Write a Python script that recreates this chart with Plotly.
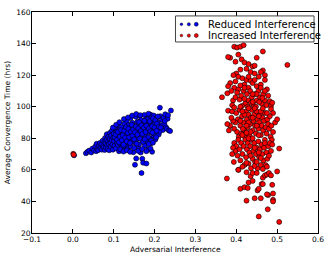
import plotly.graph_objects as go

# Reduced Interference (blue)
blue_x = [0.003,
    0.032,0.036,0.040,0.045,0.048,0.052,0.055,0.057,0.058,0.060,0.062,0.064,
    0.066,0.068,0.070,0.071,0.073,0.074,0.076,0.077,0.078,0.079,0.080,0.081,0.082,0.083,0.084,0.085,0.086,0.087,0.088,0.089,0.090,
    0.091,0.092,0.093,0.094,0.095,0.096,0.097,0.098,0.099,0.100,0.101,0.102,0.103,0.104,0.105,0.106,0.107,0.108,0.109,0.110,0.111,0.112,0.113,0.114,0.115,0.116,0.117,0.118,0.119,0.120,
    0.121,0.122,0.123,0.124,0.125,0.126,0.127,0.128,0.129,0.130,0.131,0.132,0.133,0.134,0.135,0.136,0.137,0.138,0.139,0.140,0.141,0.142,0.143,0.144,0.145,0.146,0.147,0.148,0.149,0.150,
    0.151,0.152,0.153,0.154,0.155,0.156,0.157,0.158,0.159,0.160,0.161,0.162,0.163,0.164,0.165,0.166,0.167,0.168,0.169,0.170,0.171,0.172,0.173,0.174,0.175,0.176,0.177,0.178,0.179,0.180,
    0.181,0.182,0.183,0.184,0.185,0.186,0.187,0.188,0.189,0.190,0.191,0.192,0.193,0.194,0.195,0.196,0.197,0.198,0.199,0.200,0.202,0.204,0.206,0.208,0.210,
    0.213,0.214,0.216,0.218,0.220,0.222,0.224,0.226,0.228,0.230,0.232,0.235,0.238,0.240,0.233,
    0.102,0.105,0.108,0.110,0.113,0.115,0.118,0.120,0.122,0.124,0.126,0.128,0.130,0.132,0.134,0.136,0.138,0.140,0.142,0.144,0.146,0.148,0.150,0.152,0.154,0.156,0.158,0.160,0.162,0.164,
    0.166,0.168,0.170,0.172,0.174,0.176,0.178,0.180,0.182,0.184,0.186,0.188,0.190,0.192,0.194,0.196,0.198,0.200,0.202,0.204,0.206,0.208,0.210,0.212,
    0.116,0.124,0.132,0.140,0.150,0.160,0.170,0.180,0.190,0.186,0.176,0.196,0.098,0.106,0.114,0.125,0.135,0.145,0.155,0.165,0.175,0.185,0.195,0.205,0.215,0.225]
blue_y = [69.2,
    70.5,71.5,72.2,71.0,73.5,72.4,74.8,71.8,76.5,73.2,72.5,75.5,
    77.0,73.8,76.2,72.8,78.5,75.0,74.2,77.6,72.6,80.2,76.8,74.0,79.0,82.5,75.6,73.2,78.0,81.0,76.4,72.4,79.6,
    83.5,77.2,74.6,81.8,79.0,85.0,76.0,72.8,80.4,83.0,78.2,75.2,86.2,81.0,73.6,79.8,84.2,77.0,82.2,75.8,88.0,80.6,71.8,85.4,78.6,83.6,76.4,81.4,87.0,74.2,
    79.4,84.6,72.2,82.8,77.8,89.2,80.0,75.0,86.4,83.2,78.4,91.0,81.6,73.4,85.8,79.2,88.4,76.6,83.8,80.8,92.8,74.8,86.8,82.0,78.0,89.8,84.4,71.2,80.2,87.6,
    83.0,63.2,77.2,93.6,67.2,85.2,79.6,90.4,74.0,82.6,88.0,76.2,94.2,84.8,80.4,71.0,91.6,58.0,86.0,67.0,78.8,64.5,89.0,83.4,94.8,75.4,87.2,81.2,92.2,64.0,
    85.6,78.2,90.8,73.0,88.6,83.8,93.4,80.0,86.6,95.0,76.8,89.4,84.0,71.4,91.2,87.8,81.8,94.4,85.0,89.6,79.2,92.6,86.4,90.0,82.4,
    99.4,94.0,88.2,91.8,85.2,93.0,89.0,95.2,87.0,86.0,92.4,85.0,84.6,97.6,94.6,
    80.8,82.4,79.0,84.0,77.4,81.0,85.2,78.8,82.0,76.0,84.8,80.4,87.0,78.0,83.4,86.0,80.6,77.0,84.2,88.6,81.6,85.6,79.4,83.8,87.4,76.6,82.2,86.4,90.2,79.8,
    84.6,88.2,82.8,77.8,86.8,90.6,84.0,88.0,92.0,80.6,86.2,90.8,84.4,78.6,87.6,92.6,83.0,86.8,91.4,80.6,89.2,93.8,87.2,84.2,
    73.0,71.6,72.4,71.4,73.8,72.0,73.2,71.8,73.6,76.4,79.4,77.2,86.8,88.6,90.2,92.2,93.2,94.4,95.4,94.6,91.0,95.6,83.6,84.8,86.8,91.0]

# Increased Interference (red)
red_x = [0.001,0.002,
    0.385,0.380,0.395,0.402,0.410,0.418,0.405,0.413,0.420,0.398,0.430,0.440,0.445,0.465,0.460,0.465,0.450,0.425,0.435,0.410,0.400,0.393,0.405,0.415,0.445,0.455,0.470,0.425,0.435,0.398,0.420,0.440,0.450,0.460,0.395,0.385,0.380,0.405,0.430,0.475,0.470,0.410,
    0.525,
    0.378,0.388,0.365,0.392,0.398,0.402,0.408,0.412,0.418,0.422,0.426,0.430,0.434,0.438,0.442,0.446,0.450,0.454,0.458,0.462,0.466,0.470,0.474,0.478,0.482,0.485,0.390,0.414,0.428,0.436,0.448,0.456,0.464,0.380,0.390,0.395,0.485,0.490,0.488,
    0.400,0.404,0.408,0.410,0.414,0.418,0.420,0.424,0.426,0.428,0.430,0.432,0.434,0.436,0.438,0.440,0.442,0.444,0.446,0.448,0.450,0.452,0.454,0.456,0.458,0.460,0.462,0.464,0.466,0.468,0.470,0.472,0.474,0.476,0.478,0.480,0.482,0.484,0.486,0.490,0.495,0.500,0.398,0.395,0.392,0.388,0.385,0.382,0.378,0.402,0.406,0.412,0.416,0.422,0.505,0.487,
    0.395,0.398,0.400,0.403,0.405,0.408,0.410,0.412,0.415,0.418,0.420,0.422,0.424,0.426,0.428,0.430,0.432,0.434,0.436,0.438,0.440,0.442,0.444,0.446,0.448,0.450,0.452,0.454,0.456,0.458,0.460,0.462,0.464,0.466,0.468,0.470,0.472,0.474,0.476,0.478,0.480,0.482,0.485,0.390,0.394,0.392,0.405,0.415,0.425,0.445,0.465,0.475,0.488,
    0.377,0.405,0.410,0.420,0.425,0.428,0.430,0.435,0.440,0.445,0.452,0.455,0.455,0.460,0.462,0.465,0.470,0.475,0.477,0.478,0.480,0.485,0.488,0.490,0.490,0.490,0.500,0.505,0.450,0.425,0.465,0.475,0.440,
    0.410,0.420,0.430,0.440,0.450,0.460,0.420,0.430,0.440,0.450,0.460,0.415,0.425,0.435,0.445,0.455,0.465,0.475,0.410,0.430,0.440,0.455,0.470,0.435,0.445,0.455,0.415,0.425,0.450,0.460,0.440,0.470,0.420,0.445,0.430]
red_y = [70.2,69.6,
    131.0,131.5,138.0,137.5,138.0,139.0,133.0,130.0,128.0,128.5,127.0,125.5,126.0,123.0,122.0,135.0,131.0,124.0,122.0,123.5,121.0,120.0,119.0,118.0,121.0,119.0,120.0,117.0,116.5,116.0,114.0,115.0,113.0,114.0,112.0,115.0,113.0,111.0,112.0,111.0,117.0,113.5,
    126.5,
    108.5,110.0,106.0,104.0,106.0,109.0,104.5,107.0,110.0,102.0,108.0,104.0,110.0,106.0,101.0,108.0,104.0,110.0,106.0,102.0,108.0,104.0,101.0,107.0,103.5,100.5,101.0,100.5,100.0,102.5,100.0,103.0,105.5,97.5,97.0,99.5,98.5,96.0,102.5,
    96.0,92.0,98.0,88.0,94.0,90.0,85.0,97.0,92.0,87.0,95.0,82.0,89.0,93.0,98.0,85.0,91.0,95.0,88.0,83.0,97.0,92.0,86.0,90.0,95.0,82.0,88.0,93.0,85.0,91.0,96.0,87.0,83.0,92.0,89.0,86.0,94.0,81.0,88.0,84.0,90.0,92.0,90.0,86.0,91.0,93.0,88.0,85.0,89.0,84.0,81.0,83.0,86.0,80.5,73.5,79.0,
    77.0,72.0,75.0,69.0,79.0,73.0,66.0,77.0,70.0,75.0,63.0,79.0,68.0,73.0,77.0,64.0,71.0,75.0,61.0,79.0,67.0,72.0,77.0,65.0,70.0,74.0,61.0,78.0,68.0,73.0,63.0,76.0,70.0,66.0,74.0,79.0,63.0,71.0,67.0,75.0,69.0,77.0,72.0,70.0,65.0,74.0,60.0,62.0,64.5,62.5,60.5,62.0,76.0,
    54.5,60.0,48.0,49.0,40.5,48.5,52.0,56.0,58.0,42.0,47.0,30.5,48.0,42.0,51.0,55.0,56.5,57.0,35.0,44.0,58.0,56.5,50.5,45.0,41.0,40.0,59.0,27.0,58.0,58.5,51.0,44.5,53.0,
    100.0,95.0,90.0,103.0,88.0,97.0,105.0,99.0,93.0,108.0,112.0,97.0,88.0,84.0,99.0,94.0,99.0,96.0,91.0,80.0,80.0,82.0,77.0,69.0,74.0,71.0,82.0,83.5,65.0,67.5,108.0,110.0,112.0,117.0,119.0]

series_names = ["Reduced Interference", "Increased Interference"]
series_colors = ["#0000ff", "#ff0000"]
x_ticks = [-0.1, 0.0, 0.1, 0.2, 0.3, 0.4, 0.5, 0.6]
y_ticks = [20, 40, 60, 80, 100, 120, 140, 160]
x_title = "Adversarial Interference"
y_title = "Average Convergence Time (hrs)"

FONT = "DejaVu Sans"
SMALL = 7.5
W, H = 332, 259
ML, MR, MT, MB = 32, 11, 8, 26
PW, PH = W - ML - MR, H - MT - MB


def px_x(px):
    return (px - ML) / PW


def px_y(py):
    return (H - MB - py) / PH


fig = go.Figure()
for xs, ys, name, col in [(blue_x, blue_y, series_names[0], series_colors[0]),
                          (red_x, red_y, series_names[1], series_colors[1])]:
    fig.add_trace(go.Scatter(x=xs, y=ys, mode="markers", name=name,
                             marker=dict(color=col, size=5, line=dict(color="black", width=0.6))))

axis_common = dict(showgrid=False, zeroline=False, showline=True, mirror="ticks",
                   linecolor="black", linewidth=1, ticks="inside", ticklen=4,
                   tickcolor="black", ticklabeloverflow="allow",
                   tickfont=dict(size=SMALL, color="black", family=FONT))
fig.update_xaxes(range=[-0.1, 0.6], tickvals=x_ticks, tickformat=".1f",
                 ticklabelstandoff=-1, **axis_common)
fig.update_yaxes(range=[20, 160], tickvals=y_ticks, ticklabelstandoff=-1, **axis_common)

fig.add_annotation(text=x_title, xref="paper", yref="paper", x=0.5, y=px_y(250),
                   xanchor="center", yanchor="middle", showarrow=False,
                   font=dict(size=SMALL, family=FONT, color="black"))
fig.add_annotation(text=y_title, xref="paper", yref="paper", x=px_x(7.5), y=0.5,
                   xanchor="center", yanchor="middle", showarrow=False, textangle=-90,
                   font=dict(size=SMALL, family=FONT, color="black"))

# matplotlib-style legend box (three scatter points per entry)
fig.add_shape(type="rect", xref="paper", yref="paper", layer="above",
              x0=px_x(177), x1=px_x(317), y0=px_y(38.5), y1=px_y(12),
              line=dict(color="#444444", width=1), fillcolor="white")
row_y = [20.5, 32]
dot_x = [183, 190.5, 198]
dot_r = [1.3, 1.6, 2.0]
for i, (name, col) in enumerate(zip(series_names, series_colors)):
    for dx, r in zip(dot_x, dot_r):
        fig.add_shape(type="circle", xref="paper", yref="paper", layer="above",
                      x0=px_x(dx - r), x1=px_x(dx + r), y0=px_y(row_y[i] + r), y1=px_y(row_y[i] - r),
                      line=dict(color="black", width=0.5), fillcolor=col)
    fig.add_annotation(text=name, xref="paper", yref="paper", x=px_x(208), y=px_y(row_y[i]),
                       xanchor="left", yanchor="middle", showarrow=False,
                       font=dict(size=10, family=FONT, color="black"))

fig.update_layout(width=W, height=H, margin=dict(l=ML, r=MR, t=MT, b=MB),
                  paper_bgcolor="white", plot_bgcolor="white", showlegend=False)
fig.write_html("out.html", config={"displayModeBar": False},
               post_script="document.body.style.margin='0';document.body.style.overflow='hidden';")
